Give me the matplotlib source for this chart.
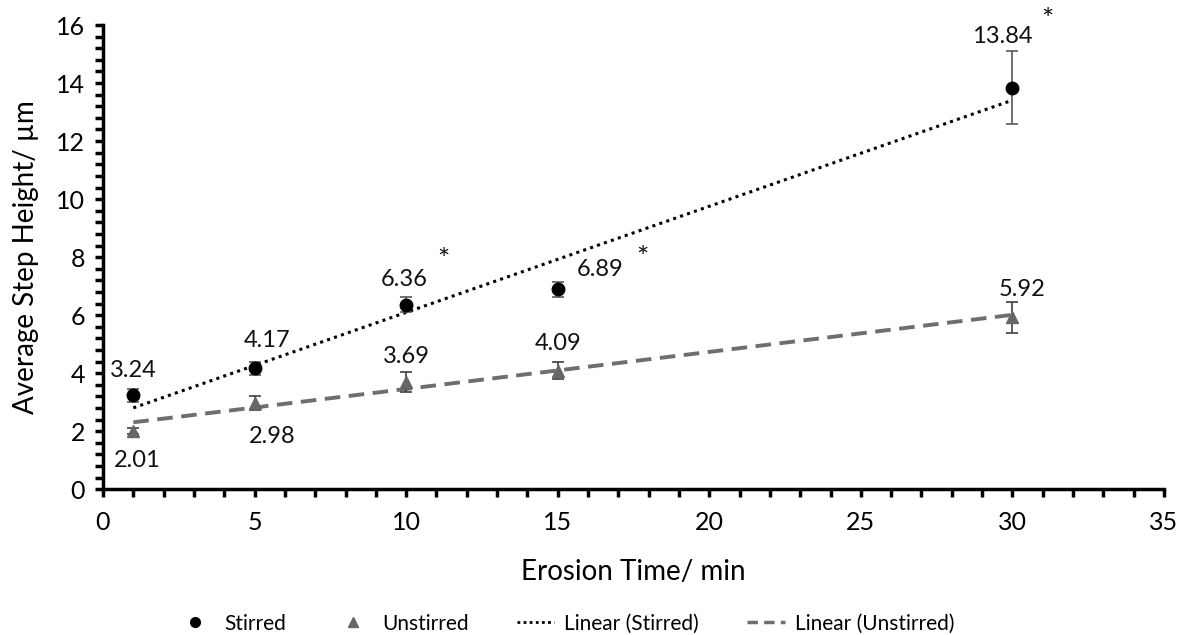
import numpy as np
import matplotlib
matplotlib.use('Agg')
import matplotlib.pyplot as plt
from matplotlib.ticker import MultipleLocator
from matplotlib.lines import Line2D

plt.rcParams['font.family'] = ['Lato', 'DejaVu Sans']

# data
times = [1, 5, 10, 15, 30]
stirred = [3.24, 4.17, 6.36, 6.89, 13.84]
stirred_err = [0.22, 0.22, 0.25, 0.27, 1.25]
unstirred = [2.01, 2.98, 3.69, 4.09, 5.92]
unstirred_err = [0.10, 0.25, 0.35, 0.28, 0.53]
star_points = [10, 15, 30]  # stirred points marked significant

# label offsets in pixels (dx, dy)
stirred_off = [(0, 25), (12, 28), (-2, 25), (42, 20), (-10, 51)]
unstirred_off = [(4, -30), (18, -34), (0, 26), (0, 27), (10, 28)]
star_off = {10: (37, 44), 15: (85, 30), 30: (35, 67)}

fig = plt.figure(figsize=(11.88, 6.35), dpi=100)
ax = fig.add_axes([0.0867, 0.2295, 0.8931, 0.7311])

grey = '#666666'
ax.errorbar(times, stirred, yerr=stirred_err, fmt='o', color='black', ms=9,
            ecolor='#595959', elinewidth=1.2, capsize=4, capthick=1.2, zorder=3)
ax.errorbar(times, unstirred, yerr=unstirred_err, fmt='^', color=grey, ms=9,
            ecolor='#404040', elinewidth=1.2, capsize=4, capthick=1.2, zorder=3)

# linear trendlines
xt = np.array([min(times), max(times)])
ps = np.polyfit(times, stirred, 1)
pu = np.polyfit(times, unstirred, 1)
ax.plot(xt, np.polyval(ps, xt), color='black', lw=2.2, dashes=(1, 1.4), zorder=2)
ax.plot(xt, np.polyval(pu, xt), color='#6e6e6e', lw=2.8, dashes=(4, 2.2), zorder=2)

for x, y, off in zip(times, stirred, stirred_off):
    ax.annotate('%.2f' % y, (x, y), xytext=off, textcoords='offset pixels',
                ha='center', va='center', fontsize=17, color='#111111')
for x, y, off in zip(times, unstirred, unstirred_off):
    ax.annotate('%.2f' % y, (x, y), xytext=off, textcoords='offset pixels',
                ha='center', va='center', fontsize=17, color='#111111')
for x in star_points:
    y = stirred[times.index(x)]
    ax.annotate('*', (x, y), xytext=star_off[x], textcoords='offset pixels',
                ha='center', va='center', fontsize=21, color='#111111')

ax.set_xlim(0, 35)
ax.set_ylim(0, 16)
ax.xaxis.set_major_locator(MultipleLocator(5))
ax.xaxis.set_minor_locator(MultipleLocator(1))
ax.yaxis.set_major_locator(MultipleLocator(2))
ax.yaxis.set_minor_locator(MultipleLocator(0.4))
for s in ['top', 'right']:
    ax.spines[s].set_visible(False)
for s in ['left', 'bottom']:
    ax.spines[s].set_linewidth(2.5)
ax.tick_params(which='both', direction='out', length=6, width=2.5, colors='black')
ax.tick_params(axis='y', which='major', labelsize=18, pad=7)
ax.tick_params(axis='x', which='major', labelsize=18, pad=10)

ax.set_xlabel('Erosion Time/ min', fontsize=20, labelpad=18)
ax.set_ylabel('Average Step Height/ \u00b5m', fontsize=20, labelpad=12)

handles = [
    Line2D([], [], ls='none', marker='o', color='black', ms=7),
    Line2D([], [], ls='none', marker='^', color=grey, ms=7),
    Line2D([], [], color='black', lw=2, dashes=(1, 1.2)),
    Line2D([], [], color='#6e6e6e', lw=2.5, dashes=(3, 1.8)),
]
labels = ['Stirred', 'Unstirred', 'Linear (Stirred)', 'Linear (Unstirred)']
fig.legend(handles, labels, loc='center', bbox_to_anchor=(0.476, 0.018), ncol=4,
           frameon=False, fontsize=15, handlelength=1.8, columnspacing=2.3,
           handletextpad=0.5)

fig.savefig('out.png', dpi=100)
